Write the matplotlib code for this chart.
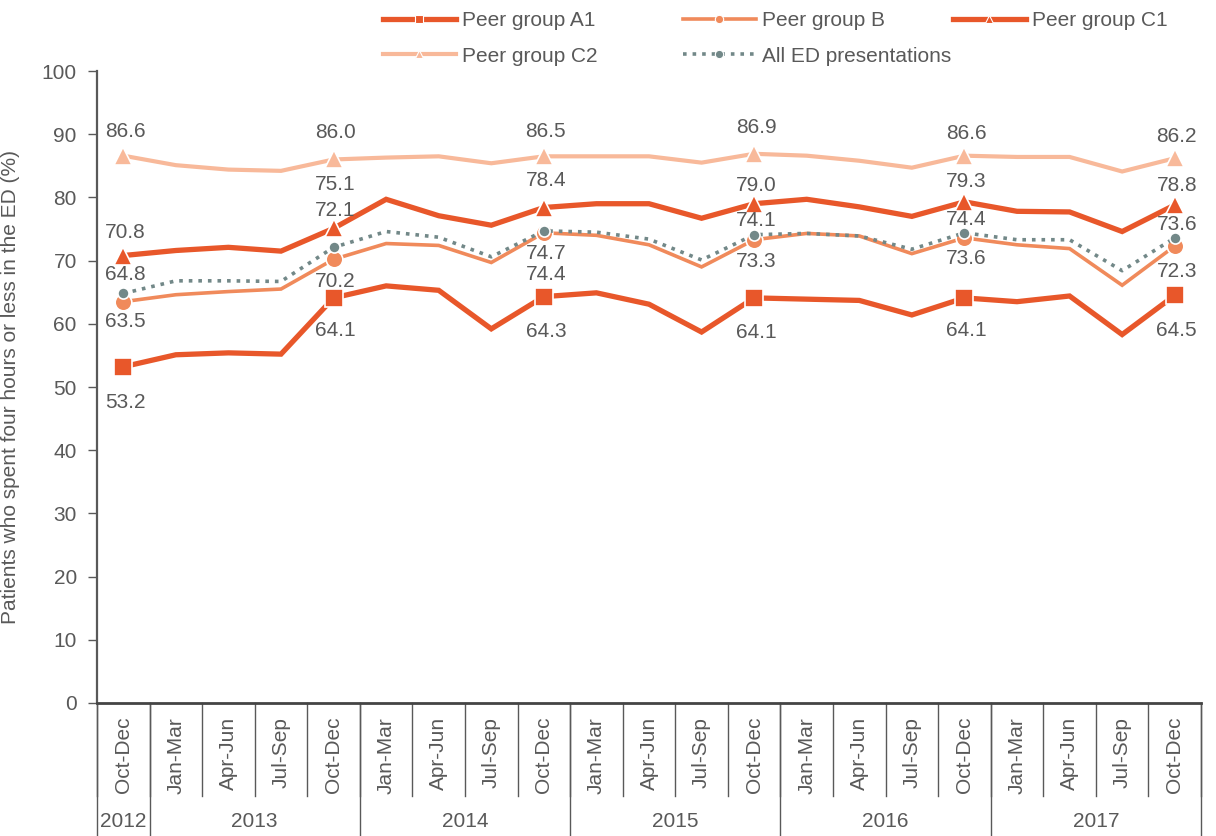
import matplotlib
matplotlib.use('Agg')
import matplotlib.pyplot as plt
from matplotlib.lines import Line2D
import numpy as np

plt.rcParams['font.family'] = ['Liberation Sans', 'DejaVu Sans']

# Quarterly data, Oct-Dec 2012 to Oct-Dec 2017
quarters = ['Oct-Dec'] + ['Jan-Mar', 'Apr-Jun', 'Jul-Sep', 'Oct-Dec'] * 5
years = ['2012', '2013', '2014', '2015', '2016', '2017']
year_spans = [1, 4, 4, 4, 4, 4]

peer_a1 = [53.2, 55.1, 55.4, 55.2, 64.1, 66.0, 65.3, 59.2, 64.3, 64.9, 63.1,
           58.7, 64.1, 63.9, 63.7, 61.4, 64.1, 63.5, 64.4, 58.3, 64.5]
peer_b = [63.5, 64.6, 65.1, 65.5, 70.2, 72.7, 72.4, 69.7, 74.4, 74.0, 72.5,
          69.0, 73.3, 74.3, 73.9, 71.1, 73.6, 72.5, 71.9, 66.1, 72.3]
peer_c1 = [70.8, 71.6, 72.1, 71.5, 75.1, 79.7, 77.1, 75.6, 78.4, 79.0, 79.0,
           76.7, 79.0, 79.7, 78.5, 77.0, 79.3, 77.8, 77.7, 74.6, 78.8]
peer_c2 = [86.6, 85.1, 84.4, 84.2, 86.0, 86.3, 86.5, 85.4, 86.5, 86.5, 86.5,
           85.5, 86.9, 86.6, 85.8, 84.7, 86.6, 86.4, 86.4, 84.1, 86.2]
all_ed = [64.8, 66.8, 66.8, 66.7, 72.1, 74.6, 73.7, 70.6, 74.7, 74.5, 73.4,
          70.1, 74.1, 74.3, 73.9, 71.8, 74.4, 73.3, 73.3, 68.4, 73.6]

dark = '#E8572A'
mid = '#F08A5B'
light = '#F8B99A'
grey = '#728888'
txt = '#595959'

x = np.arange(len(quarters))
marked = list(range(0, len(quarters), 4))

fig = plt.figure(figsize=(12.16, 8.36), dpi=100)
ax = fig.add_axes([97 / 1216, 133 / 836, 1104 / 1216, 632 / 836])

# series: values, colour, line width, style, marker, marker size, label offsets (px)
series = [
    ('Peer group C2', peer_c2, light, 3.0, '-', '^', 12.5, [24, 27, 25, 26, 22, 22]),
    ('Peer group B', peer_b, mid, 2.6, '-', 'o', 12, [-20, -22, -42, -22, -21, -25]),
    ('Peer group C1', peer_c1, dark, 3.8, '-', '^', 12.5, [23, 44, 27, 18, 20, 19]),
    ('Peer group A1', peer_a1, dark, 3.8, '-', 's', 12.5, [-36, -33, -35, -35, -33, -35]),
    ('All ED presentations', all_ed, grey, 2.6, ':', 'o', 8, [19, 37, -23, 14, 13, 13]),
]

for name, vals, col, lw, ls, mk, ms, offs in series:
    ax.plot(x, vals, color=col, lw=lw, ls=ls, marker=mk, ms=ms,
            markevery=marked, markeredgecolor='white', markeredgewidth=1.2,
            solid_joinstyle='miter', zorder=3)
    for i, dy in zip(marked, offs):
        ax.annotate(f'{vals[i]:.1f}', (x[i], vals[i]), xytext=(2, dy),
                    textcoords='offset pixels', ha='center', va='center',
                    fontsize=15, color=txt, zorder=4)

ax.set_xlim(-0.5, len(quarters) - 0.5)
ax.set_ylim(0, 100)
ax.set_yticks(np.arange(0, 101, 10))
ax.tick_params(axis='y', length=6.5, width=1, color=txt, pad=8,
               labelsize=15, labelcolor=txt)
ax.set_xticks(x)
ax.set_xticklabels(quarters, rotation=90, va='top', ha='center')
ax.tick_params(axis='x', length=0, pad=10, labelsize=15, labelcolor=txt)
for s in ['top', 'right']:
    ax.spines[s].set_visible(False)
ax.spines['left'].set_color(txt)
ax.spines['left'].set_linewidth(1.6)
ax.spines['bottom'].set_color('#444444')
ax.spines['bottom'].set_linewidth(2)

ax.set_ylabel('Patients who spent four hours or less in the ED (%)',
              fontsize=15, color=txt)
ax.yaxis.set_label_coords(-0.070, 0.5)

# category separators and year blocks below the axis
trans = ax.get_xaxis_transform()
for b in np.arange(-0.5, len(quarters), 1):
    ax.plot([b, b], [0, -0.147], transform=trans, color=txt, lw=1,
            clip_on=False)
edges = np.concatenate([[-0.5], -0.5 + np.cumsum(year_spans)])
for b in edges:
    ax.plot([b, b], [0, -0.215], transform=trans, color=txt, lw=1,
            clip_on=False)
for yr, lo, hi in zip(years, edges[:-1], edges[1:]):
    ax.text((lo + hi) / 2, -0.188, yr, transform=trans, ha='center',
            va='center', fontsize=15, color=txt)

# legend entries laid out on a fixed grid
legend_items = [
    ('Peer group A1', dark, 3.8, '-', 's', 6, 383, 21),
    ('Peer group B', mid, 2.6, '-', 'o', 6, 683, 21),
    ('Peer group C1', dark, 3.8, '-', '^', 6, 953, 21),
    ('Peer group C2', light, 3.0, '-', '^', 6, 383, 56),
    ('All ED presentations', grey, 2.6, ':', 'o', 6, 683, 56),
]
for name, col, lw, ls, mk, ms, px, py in legend_items:
    h = Line2D([], [], color=col, lw=lw, ls=ls, marker=mk, ms=ms,
               markeredgecolor='white', markeredgewidth=0.8)
    fig.legend(handles=[h], labels=[name], loc='center left',
               bbox_to_anchor=(px / 1216, 1 - py / 836), frameon=False,
               borderpad=0, borderaxespad=0, handlelength=3.5,
               handletextpad=0.3, fontsize=15, labelcolor=txt)

fig.savefig('out.png', dpi=100)
